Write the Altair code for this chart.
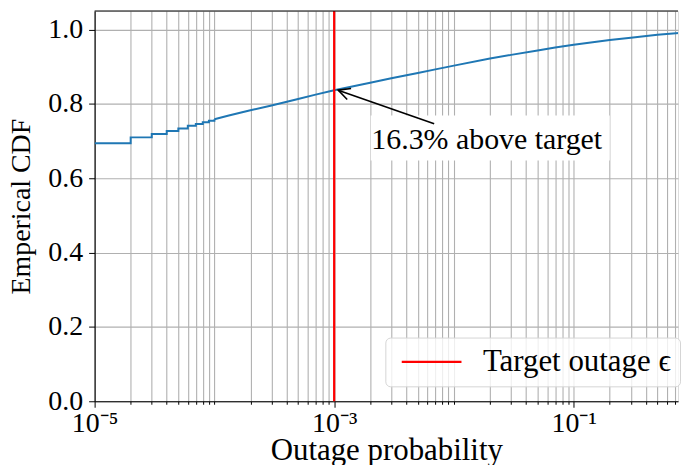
import altair as alt
import pandas as pd

FONT = "Liberation Serif"

# ECDF: discrete steps at small outage values
step_x = [1e-5, 2e-5, 3e-5, 4e-5, 5e-5, 6e-5, 7e-5, 8e-5, 9e-5, 1e-4]
step_y = [0.694, 0.710, 0.719, 0.727, 0.734, 0.741, 0.746, 0.751, 0.755, 0.759]
# ECDF: dense part
dense_x = [1e-4, 1.32e-4, 2e-4, 3e-4, 5e-4, 7e-4, 1e-3, 2e-3, 3e-3, 5e-3, 7e-3,
           1e-2, 2e-2, 3e-2, 5e-2, 7e-2, 1e-1, 2e-1, 3e-1, 5e-1, 0.87]
dense_y = [0.759, 0.769, 0.783, 0.796, 0.813, 0.825, 0.837, 0.857, 0.869, 0.883, 0.893,
           0.903, 0.922, 0.932, 0.944, 0.952, 0.959, 0.972, 0.978, 0.986, 0.992]

target = [1e-3]
target_label = ["Target outage \u03f5"]

# annotation
ann_text = ["16.3% above target"]
ann_text_x = [0.0188]
ann_text_y = [0.680]
ann_box_x = [2.02e-3]
ann_box_x2 = [0.2]
ann_box_y = [0.648]
ann_box_y2 = [0.769]
arrow_from = [6.84e-3, 0.7465]
arrow_to = [1.08e-3, 0.837]

major_ticks = [1e-5, 1e-3, 1e-1]
major_labels = ["10\u207b\u2075", "10\u207b\u00b3", "10\u207b\u00b9"]
decades = [1e-5, 1e-4, 1e-3, 1e-2, 1e-1]
mults = [1, 2, 3, 4, 5, 6, 7, 8, 9]
x_domain = [1e-5, 0.743]
y_domain = [0, 1.05]
y_ticks = [0, 0.2, 0.4, 0.6, 0.8, 1.0]

x_values = [m * d for d in decades for m in mults if m * d <= x_domain[1]]
major_list = "[" + ",".join(repr(v) for v in major_ticks) + "]"
label_expr = " : ".join(
    f"datum.value == {repr(v)} ? '{lab}'" for v, lab in zip(major_ticks, major_labels)
) + " : ''"

xscale = alt.Scale(type="log", domain=x_domain, nice=False)
yscale = alt.Scale(domain=y_domain, nice=False)

xaxis = alt.Axis(
    values=x_values, labelExpr=label_expr, title="Outage probability",
    grid=True, gridColor="#b0b0b0", gridWidth=1.1,
    tickSize={"condition": {"test": f"indexof({major_list}, datum.value) >= 0", "value": 6}, "value": 3},
    tickColor="black", domainColor="black", domainWidth=1.1,
    labelFont=FONT, labelFontSize=28, labelColor="black", labelPadding=2,
    titleFont=FONT, titleFontSize=31, titleFontWeight="normal", titleColor="black",
    titlePadding=-2, labelOverlap=False, labelFlush=False,
)
yaxis = alt.Axis(
    values=y_ticks, format=".1f", title="Emperical CDF",
    grid=True, gridColor="#b0b0b0", gridWidth=1.1,
    tickSize=6, tickColor="black", domainColor="black", domainWidth=1.1,
    labelFont=FONT, labelFontSize=28, labelColor="black", labelPadding=6,
    titleFont=FONT, titleFontSize=28, titleFontWeight="normal", titleColor="black",
    titlePadding=12,
)

step_df = pd.DataFrame({"x": step_x, "y": step_y})
dense_df = pd.DataFrame({"x": dense_x, "y": dense_y})

steps = alt.Chart(step_df).mark_line(
    interpolate="step-after", color="#1f77b4", strokeWidth=2, clip=True
).encode(x=alt.X("x:Q", scale=xscale, axis=xaxis), y=alt.Y("y:Q", scale=yscale, axis=yaxis))

dense = alt.Chart(dense_df).mark_line(color="#1f77b4", strokeWidth=2, clip=True).encode(
    x="x:Q", y="y:Q")

target_df = pd.DataFrame({"x": target, "name": target_label})
target_rule = alt.Chart(target_df).mark_rule(strokeWidth=2.2).encode(
    x="x:Q",
    stroke=alt.Stroke(
        "name:N",
        scale=alt.Scale(domain=target_label, range=["#ff0000"]),
        legend=alt.Legend(
            title=None, orient="none", legendX=292, legendY=328,
            symbolType="M -0.8 0 L 5.2 0", symbolSize=400, symbolStrokeWidth=2.2,
            labelFont=FONT, labelFontSize=31, labelColor="black", labelOffset=58,
            padding=9, fillColor="rgba(255,255,255,0.8)", strokeColor="#d5d5d5",
            cornerRadius=5, rowPadding=0, labelLimit=400,
        ),
    ),
)

box_df = pd.DataFrame({"x": ann_box_x, "x2": ann_box_x2, "y": ann_box_y, "y2": ann_box_y2})
box = alt.Chart(box_df).mark_rect(color="white").encode(x="x:Q", x2="x2:Q", y="y:Q", y2="y2:Q")

text_df = pd.DataFrame({"x": ann_text_x, "y": ann_text_y, "t": ann_text})
text = alt.Chart(text_df).mark_text(
    font=FONT, fontSize=30, color="black", align="center", baseline="alphabetic"
).encode(x="x:Q", y="y:Q", text="t:N")

arrow_df = pd.DataFrame({"x": [arrow_from[0]], "x2": [arrow_to[0]],
                         "y": [arrow_from[1]], "y2": [arrow_to[1]]})
arrow = alt.Chart(arrow_df).mark_rule(color="black", strokeWidth=1.6).encode(
    x="x:Q", x2="x2:Q", y="y:Q", y2="y2:Q")

head_df = pd.DataFrame({"x": [arrow_to[0]], "y": [arrow_to[1]]})
head = alt.Chart(head_df).mark_point(
    shape="M -1 -0.5 L 0 0 L -1 0.5", filled=False, color="black",
    strokeWidth=1.6, size=550, angle=199.5, opacity=1
).encode(x="x:Q", y="y:Q")

top_df = pd.DataFrame({"y": [y_domain[1]]})
top = alt.Chart(top_df).mark_rule(color="black", strokeWidth=1.1).encode(y="y:Q")

chart = alt.layer(box, steps, dense, target_rule, arrow, head, text, top).properties(
    width=586, height=392,
    padding={"left": 0, "top": 0, "right": 0, "bottom": -1},
).configure_view(stroke=None).configure(background="white")

chart.save("out.html", embed_options={"renderer": "svg", "actions": False})
